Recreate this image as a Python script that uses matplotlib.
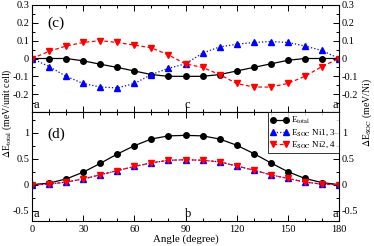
import matplotlib
matplotlib.use("Agg")
import matplotlib.pyplot as plt
from matplotlib.ticker import MultipleLocator

plt.rcParams['font.family'] = ['Liberation Serif', 'DejaVu Serif']
plt.rcParams['mathtext.fontset'] = 'stix'

angles = [0, 10, 20, 30, 40, 50, 60, 70, 80, 90, 100, 110, 120, 130, 140, 150, 160, 170, 180]

# panel (c)
c_total = [0, 0, 0, -0.013, -0.032, -0.05, -0.07, -0.09, -0.1, -0.1, -0.1, -0.09, -0.07, -0.05, -0.03, -0.01, 0, 0, 0]
c_ni13 = [0, -0.045, -0.1, -0.14, -0.16, -0.165, -0.14, -0.09, -0.055, -0.03, 0.03, 0.065, 0.08, 0.09, 0.095, 0.09, 0.07, 0.045, 0]
c_ni24 = [0, 0.04, 0.07, 0.09, 0.1, 0.09, 0.075, 0.06, 0.02, -0.03, -0.05, -0.09, -0.14, -0.16, -0.16, -0.14, -0.1, -0.045, 0]

# panel (d)
d_total = [0, 0.03, 0.11, 0.24, 0.41, 0.59, 0.75, 0.88, 0.94, 0.95, 0.94, 0.88, 0.76, 0.60, 0.42, 0.25, 0.12, 0.04, 0]
d_ni13 = [0, 0.01, 0.05, 0.11, 0.19, 0.27, 0.35, 0.42, 0.47, 0.48, 0.47, 0.44, 0.36, 0.28, 0.19, 0.12, 0.05, 0.01, 0]
d_ni24 = [0, 0.01, 0.05, 0.11, 0.19, 0.27, 0.35, 0.42, 0.47, 0.48, 0.47, 0.44, 0.36, 0.28, 0.19, 0.12, 0.05, 0.01, 0]

labels = [r'E$_{\rm total}$', r'E$_{\rm SOC}$ Ni1, 3', r'E$_{\rm SOC}$ Ni2, 4']

fig = plt.figure(figsize=(3.74, 2.46), dpi=100)
L, R = 32/374, 339/374
ax1 = fig.add_axes([L, 1-112/246, R-L, 107/246])
ax2 = fig.add_axes([L, 1-221/246, R-L, 109/246])

ms = 4
tfs = 7.5
for ax, tot, n13, n24 in [(ax1, c_total, c_ni13, c_ni24), (ax2, d_total, d_ni13, d_ni24)]:
    ax.plot(angles, tot, '-', color='black', marker='o', ms=ms, lw=0.9, label=labels[0])
    ax.plot(angles, n13, ':', color='blue', marker='^', ms=ms, lw=0.9, label=labels[1])
    ax.plot(angles, n24, '--', color='red', marker='v', ms=ms, lw=0.9, label=labels[2], dashes=(3, 2))
    ax.set_xlim(0, 180)
    ax.xaxis.set_major_locator(MultipleLocator(30))
    ax.xaxis.set_minor_locator(MultipleLocator(10))
    ax.tick_params(which='both', direction='in', top=True, right=True, labelright=True, labelsize=tfs, pad=2)
    ax.tick_params(which='major', length=4, width=0.7)
    ax.tick_params(which='minor', length=2, width=0.7)
    for s in ax.spines.values():
        s.set_linewidth(0.8)

ax1.set_ylim(-0.3, 0.3)
ax1.set_yticks([-0.2, -0.1, 0, 0.1, 0.2, 0.3])
ax1.set_yticklabels(['-0.2', '-0.1', '0', '0.1', '0.2', '0.3'])
ax1.yaxis.set_minor_locator(MultipleLocator(0.05))
ax1.tick_params(labelbottom=False)

ax2.set_ylim(-0.7, 1.4)
ax2.set_yticks([-0.5, 0, 0.5, 1])
ax2.set_yticklabels(['-0.5', '0', '0.5', '1'])
ax2.yaxis.set_minor_locator(MultipleLocator(0.25))
ax2.set_xticks([0, 30, 60, 90, 120, 150, 180])
ax2.tick_params(axis='x', pad=3)
ax2.set_xlabel('Angle (degree)', fontsize=7.8, labelpad=0)

ax1.text(0.05, 0.8, '(c)', transform=ax1.transAxes, fontsize=11)
ax2.text(0.05, 0.76, '(d)', transform=ax2.transAxes, fontsize=11)

for ax, mid in [(ax1, 'c'), (ax2, 'b')]:
    ax.text(1, 0.005, 'a', transform=ax.get_xaxis_transform(), fontsize=9, va='bottom', ha='left')
    ax.text(89.5, 0.005, mid, transform=ax.get_xaxis_transform(), fontsize=9, va='bottom', ha='left')
    ax.text(179.5, 0.005, 'a', transform=ax.get_xaxis_transform(), fontsize=9, va='bottom', ha='right')

leg = ax2.legend(loc='upper right', numpoints=2, fontsize=6.5, frameon=True, fancybox=False,
                 edgecolor='black', borderaxespad=0, handlelength=2.0, handletextpad=0.3,
                 borderpad=0.3, labelspacing=0.2)
leg.get_frame().set_linewidth(0.7)

ymid = (1-221/246 + 1-5/246)/2
fig.text(0.002, ymid, r'$\Delta$E$_{\rm total}$ (meV/unit cell)', rotation=90,
         va='center', ha='left', fontsize=7)
fig.text(0.999, ymid, r'$\Delta$E$_{\rm SOC}$ (meV/Ni)', rotation=90,
         va='center', ha='right', fontsize=7)

fig.savefig('out.png', dpi=100)
